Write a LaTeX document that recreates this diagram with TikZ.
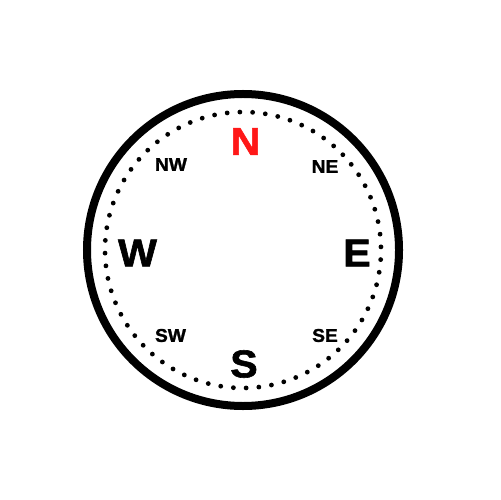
\documentclass[tikz,border=0pt]{standalone}
\usepackage{fontspec}
\setmainfont{Liberation Sans}[BoldFeatures={FakeBold=1.5}]
\definecolor{nred}{RGB}{255,24,24}
\begin{document}
\begin{tikzpicture}[x=1bp,y=-1bp,
  big/.style={font=\fontsize{39}{39}\selectfont\bfseries, inner sep=0pt, xscale=1.06},
  small/.style={font=\fontsize{18.5}{18.5}\selectfont\bfseries, inner sep=0pt, xscale=1.04}]
\useasboundingbox (0,0) rectangle (500,500);
\coordinate (c) at (243,250);
\draw[line width=8bp] (c) circle[radius=156bp];
\foreach \i in {0,...,67}{
  \pgfmathsetmacro{\a}{91.3+\i*5.294118}
  \fill ({243+138*cos(\a)},{250-138*sin(\a)}) circle[radius=2.4bp];
}
\node[big, text=nred] (n) at (245.5,141.5) {N};
\node[big] (s) at (244,364) {S};
\node[big] (w) at (137.5,253) {W};
\node[big] (e) at (357,253) {E};
\node[small] (nw) at (171,164.5) {NW};
\node[small] (ne) at (325,166.5) {NE};
\node[small] (sw) at (170.5,335.5) {SW};
\node[small] (se) at (325,335.5) {SE};
\end{tikzpicture}
\end{document}
